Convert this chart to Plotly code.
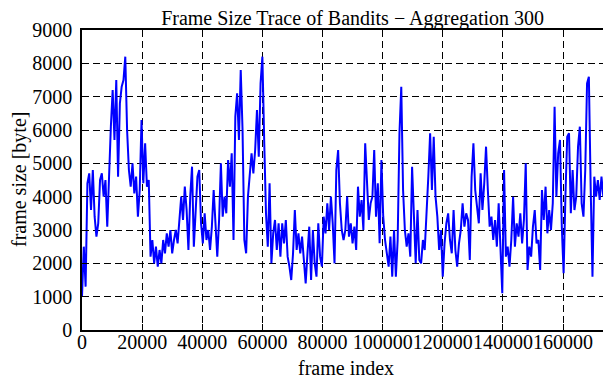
import plotly.graph_objects as go

# Frame-size samples (bytes), one every FRAME_STEP frames
seg_a = [1000, 2500, 1300, 4400, 4700, 3600, 4800, 3400, 2800, 3200,
         4500, 4700, 4000, 4500, 3100, 4700, 6100, 7200, 5700, 7500,
         4600, 6800, 7300, 7500, 8200, 6000, 4800, 4300, 5000, 4100,
         4600, 3400, 4200, 6300, 4400, 5600, 4300, 4500, 2200, 2700,
         2000, 2500, 1900, 2400, 2000, 2700, 2300, 2900, 2500, 3000]
seg_b = [2300, 2700, 3000, 2600, 3300, 4000, 3300, 4300, 3600, 2400,
         4000, 4900, 2500, 3600, 4600, 4800, 3200, 2600, 3500, 2700,
         3000, 2400, 3100, 4200, 3000, 2200, 3300, 5000, 3400, 4000,
         3500, 5100, 4300, 5300, 2700, 6400, 7100, 5700, 7800, 6000,
         2700, 2300, 4000, 4800, 5300, 4700, 5400, 6600]
seg_c = [5200, 7400, 8200, 5700, 3500, 2500, 4400, 2000, 2900, 3300,
         2400, 3200, 2200, 3200, 2600, 3300, 2200, 1900, 1500, 2300,
         3600, 2400, 2900, 2300, 2800, 2100, 1400, 2300, 3100, 1500,
         3000, 2000, 1600, 3200, 2200, 1900, 3400, 2900, 3800, 3000,
         4000, 3200, 2000, 4800, 5400, 3800, 3000, 2700]
seg_d = [3000, 4000, 2800, 3200, 2600, 3100, 2400, 4300, 3400, 3900,
         3000, 5600, 4300, 3300, 3800, 4000, 5400, 3400, 4400, 2600,
         5100, 3400, 2700, 2300, 1900, 2800, 1600, 3000, 1600, 2700,
         5900, 7300, 4200, 3000, 2500, 2900, 2200, 4900, 3400, 2000,
         3600, 2100, 2000, 2700, 2400, 3400, 4600, 5900, 4200, 5800]
seg_e = [4000, 3400, 2400, 3000, 1600, 2600, 3200, 3500, 2700, 2300,
         3600, 2400, 1900, 2600, 3000, 3800, 3100, 3500, 3300, 2100,
         4600, 5600, 4200, 3700, 3200, 4700, 3600, 4400, 5500, 4200,
         3100, 3400, 2700, 3300, 2500, 3800, 2500, 1100, 4800, 2200,
         2500, 1900, 2700, 4000, 2500, 3200, 2800, 3500]
seg_f = [2600, 3300, 5000, 1800, 2500, 2200, 3100, 3600, 2600, 2700,
         1800, 4200, 3300, 4300, 2900, 3600, 3000, 3800, 6700, 4000,
         5300, 5700, 3100, 1700, 4000, 5800, 5900, 3500, 4800, 3600,
         4000, 5500, 6100, 3800, 3400, 4800, 7400, 7600, 4300, 1600,
         4600, 4000, 4500, 3900, 4600, 4000, 4100, 2400, 1100]

frame_size = seg_a + seg_b + seg_c + seg_d + seg_e + seg_f
FRAME_STEP = 600
frame_index = [i * FRAME_STEP for i in range(len(frame_size))]

x_ticks = [0, 20000, 40000, 60000, 80000, 100000, 120000, 140000, 160000]
y_ticks = [0, 1000, 2000, 3000, 4000, 5000, 6000, 7000, 8000, 9000]

title_text = "Frame Size Trace of Bandits − Aggregation 300"
x_title = "frame index"
y_title = "frame size [byte]"

FONT = "Liberation Serif, Times New Roman, serif"

fig = go.Figure()
fig.add_trace(go.Scatter(
    x=frame_index, y=frame_size, mode="lines",
    line=dict(color="#0000ff", width=2),
    showlegend=False, hoverinfo="skip",
))

axis_common = dict(
    showline=True, linecolor="black", linewidth=1.5, mirror="ticks",
    ticks="inside", ticklen=6, tickwidth=1, tickcolor="black",
    showgrid=True, gridcolor="black", gridwidth=1, griddash="7px,4px",
    zeroline=False, automargin=False,
    tickfont=dict(family=FONT, size=20, color="black"),
)

fig.update_xaxes(range=[0, 175300], tickvals=x_ticks,
                 ticktext=[str(v) for v in x_ticks], tickangle=0,
                 ticklabelstandoff=-7, **axis_common)
fig.update_yaxes(range=[0, 9000], tickvals=y_ticks,
                 ticktext=[str(v) for v in y_ticks],
                 ticklabelstandoff=4, **axis_common)

# the page offsets the figure by about 8px right and down
fig.update_layout(
    width=603, height=372,
    margin=dict(l=74, r=2, t=22, b=50),
    paper_bgcolor="white", plot_bgcolor="white",
    font=dict(family=FONT, size=20, color="black"),
    title=dict(text=title_text, x=0.5715, xanchor="center",
               yref="container", y=1 - 10 / 372, yanchor="middle",
               font=dict(family=FONT, size=20, color="black")),
    annotations=[
        dict(text=x_title, xref="paper", yref="paper", x=0.5, y=-0.127,
             xanchor="center", yanchor="middle", showarrow=False,
             font=dict(family=FONT, size=20, color="black")),
        dict(text=y_title, xref="paper", yref="paper", x=-0.1195, y=0.5,
             xanchor="center", yanchor="middle", showarrow=False,
             textangle=-90, font=dict(family=FONT, size=20, color="black")),
    ],
)

fig.write_html("out.html")
